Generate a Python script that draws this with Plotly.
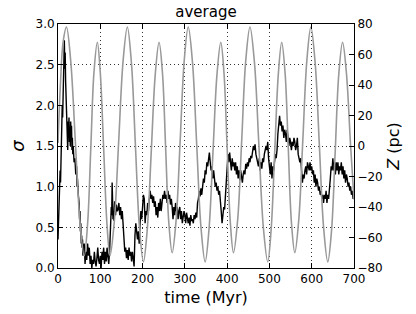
import plotly.graph_objects as go

# ---- black curve: sigma vs time (Myr) ----
time_myr = [
    0, 1, 2, 3, 4, 5, 6, 7, 8, 9,
    10, 11, 12, 13, 14, 15, 16, 17, 18, 19,
    20, 21, 22, 23, 24, 25, 26, 27, 28, 29,
    30, 31, 32, 33, 34, 35, 36, 38, 40, 42,
    44, 45, 46, 48, 50, 51, 52, 53, 54, 55,
    56, 57, 58, 59, 60, 62, 64, 66, 68, 70,
    72, 74, 76, 78, 80, 82, 84, 86, 88, 90,
    92, 94, 96, 98, 100, 102, 104, 106, 108, 110,
    112, 114, 116, 118, 120, 122, 124, 125, 126, 127,
    128, 129, 130, 131, 132, 134, 136, 138, 140, 142,
    144, 146, 148, 150, 152, 154, 156, 158, 160, 162,
    164, 166, 168, 170, 172, 174, 176, 178, 180, 182,
    184, 186, 188, 190, 192, 194, 196, 198, 200, 202,
    204, 206, 208, 210, 212, 214, 216, 218, 220, 222,
    224, 226, 228, 230, 232, 234, 236, 238, 240, 242,
    244, 246, 248, 250, 252, 254, 256, 258, 260, 262,
    264, 266, 268, 270, 272, 274, 276, 278, 280, 282,
    284, 286, 288, 290, 292, 294, 296, 298, 300, 302,
    304, 306, 308, 310, 312, 314, 316, 318, 320, 322,
    324, 326, 328, 330, 332, 334, 336, 338, 340, 342,
    344, 346, 348, 350, 352, 354, 356, 358, 360, 362,
    364, 366, 368, 370, 372, 374, 376, 378, 380, 382,
    384, 386, 388, 390, 392, 394, 396, 398, 400, 402,
    404, 406, 408, 410, 412, 414, 416, 418, 420, 422,
    424, 426, 428, 430, 432, 434, 436, 438, 440, 442,
    444, 446, 448, 450, 452, 454, 456, 458, 460, 462,
    464, 466, 468, 470, 472, 474, 476, 478, 480, 482,
    484, 486, 488, 490, 492, 494, 496, 498, 500, 502,
    504, 506, 508, 510, 512, 514, 516, 518, 520, 522,
    524, 526, 528, 530, 532, 534, 536, 538, 540, 542,
    544, 546, 548, 550, 552, 554, 556, 558, 560, 562,
    564, 566, 568, 570, 572, 574, 576, 578, 580, 582,
    584, 586, 588, 590, 592, 594, 596, 598, 600, 602,
    604, 606, 608, 610, 612, 614, 616, 618, 620, 622,
    624, 626, 628, 630, 632, 634, 636, 638, 640, 642,
    644, 646, 648, 650, 652, 654, 656, 658, 660, 662,
    664, 666, 668, 670, 672, 674, 676, 678, 680, 682,
    684, 686, 688, 690, 692, 694, 696, 698, 700,
]
sigma = [
    0.35, 0.6, 0.85, 0.7, 0.95, 1.2, 1.05, 1.45, 1.75, 1.6,
    2.0, 1.85, 2.25, 2.05, 2.55, 2.8, 2.45, 2.65, 2.3, 2.1,
    1.75, 1.55, 1.65, 1.45, 1.8, 1.6, 1.85, 1.55, 1.7, 1.5,
    1.8, 1.6, 1.75, 1.45, 1.6, 1.4, 1.5, 1.3, 1.35, 1.15,
    1.25, 1.0, 1.1, 0.9, 0.8, 0.6, 0.7, 0.45, 0.55, 0.3,
    0.4, 0.25, 0.35, 0.15, 0.25, 0.3, 0.05, 0.2, 0.1, 0.3,
    0.15, 0.25, 0.05, 0.15, 0.0, 0.1, 0.05, 0.2, 0.08, 0.02,
    0.12, 0.25, 0.1, 0.05, 0.15, 0.0, 0.2, 0.1, 0.25, 0.05,
    0.2, 0.08, 0.25, 0.15, 0.05, 0.2, 0.5, 0.45, 0.75, 0.65,
    1.05, 0.85, 0.6, 0.7, 0.58, 0.82, 0.65, 0.78, 0.7, 0.72,
    0.8, 0.65, 0.75, 0.6, 0.7, 0.5, 0.3, 0.2, 0.25, 0.12,
    0.22, 0.1, 0.25, 0.15, 0.2, 0.08, 0.2, 0.1, 0.02, 0.4,
    0.55, 0.45, 0.35, 0.45, 0.3, 0.55, 0.7, 0.6, 0.8, 0.9,
    0.85, 0.55, 0.7, 0.65, 0.8, 0.7, 0.85, 0.95, 0.85, 0.9,
    0.8, 0.88, 0.75, 0.82, 0.65, 0.75, 0.62, 0.8, 0.7, 0.85,
    0.7, 0.8, 0.9, 0.85, 0.95, 0.85, 0.9, 0.8, 0.95, 0.85,
    0.9, 0.78, 0.85, 0.75, 0.6, 0.75, 0.65, 0.8, 0.7, 0.75,
    0.6, 0.7, 0.75, 0.6, 0.7, 0.55, 0.65, 0.7, 0.65, 0.55,
    0.68, 0.6, 0.55, 0.62, 0.52, 0.65, 0.58, 0.6, 0.55, 0.65,
    0.6, 0.68, 0.62, 0.8, 0.85, 0.95, 0.88, 0.98, 0.9, 1.0,
    1.1, 1.05, 1.2, 1.15, 1.3, 1.25, 1.4, 1.42, 1.3, 1.2,
    1.25, 1.1, 1.2, 1.05, 1.0, 1.05, 0.95, 1.0, 0.9, 0.95,
    0.85, 0.7, 0.55, 0.65, 0.75, 0.72, 0.9, 1.15, 1.3, 1.4,
    1.3, 1.42, 1.3, 1.2, 1.35, 1.25, 1.3, 1.2, 1.3, 1.15,
    1.25, 1.1, 1.2, 1.08, 1.2, 1.1, 1.05, 1.15, 1.2, 1.15,
    1.28, 1.22, 1.3, 1.25, 1.35, 1.3, 1.38, 1.35, 1.42, 1.5,
    1.45, 1.52, 1.4, 1.35, 1.3, 1.25, 1.35, 1.2, 1.3, 1.22,
    1.35, 1.3, 1.4, 1.45, 1.5, 1.45, 1.55, 1.35, 1.25, 1.15,
    1.3, 1.1, 1.25, 1.2, 1.3, 1.4, 1.35, 1.45, 1.65, 1.78,
    1.87, 1.75, 1.8, 1.68, 1.75, 1.6, 1.7, 1.65, 1.55, 1.7,
    1.6, 1.5, 1.6, 1.55, 1.45, 1.55, 1.5, 1.6, 1.55, 1.45,
    1.5, 1.6, 1.4, 1.35, 1.3, 1.35, 1.15, 1.05, 1.15, 1.1,
    1.2, 1.25, 1.15, 1.3, 1.25, 1.2, 1.3, 1.2, 1.25, 1.15,
    1.2, 1.05, 1.15, 1.0, 1.1, 1.05, 0.95, 1.0, 0.9, 0.95,
    0.85, 0.9, 0.8, 0.9, 0.85, 0.95, 0.8, 0.9, 0.85, 0.95,
    1.1, 1.25, 1.2, 1.35, 1.2, 1.3, 1.15, 1.3, 1.2, 1.3,
    1.15, 1.25, 1.2, 1.3, 1.15, 1.25, 1.1, 1.2, 1.05, 1.15,
    1.1, 1.0, 1.05, 0.95, 1.0, 0.9, 0.95, 0.85, 0.9,
]

# ---- gray curve: vertical position Z (pc), read at extrema / crossings ----
z_time = [
    0, 6, 12, 20, 30, 41, 52, 62, 70, 77.5, 85, 93,
    100, 108, 116, 123, 133, 143.5, 154, 164, 173.5, 183, 192.5, 202,
    211, 220.5, 230, 239, 247, 254.5, 262, 270, 279.5, 289, 298.5, 308,
    318, 328, 338, 348, 357, 366.5, 376, 385, 392.5, 400, 407.5, 415,
    425, 434.5, 444, 454, 464.5, 475, 485.5, 496, 504, 512.5, 521, 529,
    537, 544.5, 552, 560, 569.5, 579, 588.5, 598, 608, 618, 628, 638,
    647, 655.5, 664, 673, 682, 692, 700,
]
z_pc = [
    2, 42, 68, 78, 56, 3, -50, -72, -51, -2, 48, 68,
    48, -2, -52, -72, -50, 3, 56, 78, 55, 1, -53, -76,
    -55, -4, 47, 68, 48, -1, -50, -70, -48, 4, 56, 78,
    55, 1, -53, -76, -55, -4, 47, 68, 48, -1, -50, -70,
    -48, 4, 56, 78, 55, 1, -53, -76, -55, -4, 47, 68,
    48, -1, -50, -70, -48, 4, 56, 78, 55, 1, -53, -76,
    -55, -4, 47, 68, 48, 0, -35,
]

x_ticks = [0, 100, 200, 300, 400, 500, 600, 700]
sigma_ticks = [0.0, 0.5, 1.0, 1.5, 2.0, 2.5, 3.0]
z_ticks = [-80, -60, -40, -20, 0, 20, 40, 60, 80]

fig = go.Figure()
fig.add_trace(go.Scatter(x=time_myr, y=sigma, mode="lines",
                         line=dict(color="black", width=1.4), yaxis="y",
                         showlegend=False))
fig.add_trace(go.Scatter(x=z_time, y=z_pc, mode="lines",
                         line=dict(color="#999999", width=1.6, shape="spline",
                                   smoothing=1.0),
                         yaxis="y2", showlegend=False))

axis_common = dict(showline=True, linecolor="black", linewidth=1,
                   ticks="inside", ticklen=5, tickcolor="black",
                   tickfont=dict(size=12, color="black"), zeroline=False,
                   automargin=False)

grid = dict(showgrid=True, gridcolor="rgba(0,0,0,0.8)", griddash="1px,3px",
            gridwidth=1)

fig.update_layout(
    width=416, height=314,
    margin=dict(l=58, r=62, t=24, b=46),
    paper_bgcolor="white", plot_bgcolor="white",
    font=dict(family="DejaVu Sans", color="black"),
    title=dict(text="average", x=0.5, xref="paper", xanchor="center",
               y=1 - 12 / 314, yref="container", yanchor="middle",
               font=dict(size=15, color="black")),
    xaxis=dict(range=[0, 700], tickvals=x_ticks, mirror="ticks",
               title=dict(text="time (Myr)", font=dict(size=16), standoff=6),
               **grid, **axis_common),
    yaxis=dict(range=[0, 3], tickvals=sigma_ticks, tickformat=".1f",
               mirror=True,
               title=dict(text="<i>σ</i>", font=dict(size=18), standoff=6),
               **grid, **axis_common),
    yaxis2=dict(range=[-80, 80], tickvals=z_ticks, overlaying="y", side="right",
                showgrid=False,
                title=dict(text="<i>Z</i> (pc)", font=dict(size=16), standoff=6),
                **axis_common),
)

fig.write_html("out.html",
               config={"displayModeBar": False},
               post_script="document.body.style.margin='0';"
                           "document.body.style.overflow='hidden';")
